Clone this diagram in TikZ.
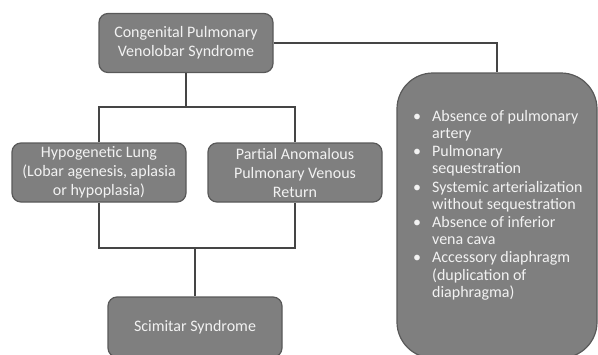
\documentclass[tikz,border=0pt]{standalone}
\usepackage{fontspec}
\setmainfont{Carlito}
\usetikzlibrary{calc,positioning,shapes}

\definecolor{boxgray}{HTML}{7F7F7F}
\definecolor{edgegray}{HTML}{595959}
\definecolor{linegray}{HTML}{454545}
\definecolor{txtwhite}{HTML}{F2F2F2}

\tikzset{
  tbox/.style={draw=edgegray, line width=1.2pt, fill=boxgray, rounded corners=9pt,
    minimum width=174pt, minimum height=59pt, align=center, text=txtwhite,
    font=\fontsize{16}{19}\selectfont, inner sep=2pt},
  conn/.style={draw=linegray, line width=2pt}
}

\begin{document}
\begin{tikzpicture}[x=1pt,y=-1pt]
\useasboundingbox (0,0) rectangle (598,354);

\node[tbox] (cpvs) at (186,43) {Congenital Pulmonary\\Venolobar Syndrome};
\node[tbox] (hypo) at (99,172.5) {Hypogenetic Lung\\(Lobar agenesis, aplasia\\or hypoplasia)};
\node[tbox] (papvr) at (295,172.5) {Partial Anomalous\\Pulmonary Venous\\Return};
\node[tbox, minimum height=60pt] (scim) at (195,327) {Scimitar Syndrome};
\node[tbox, minimum width=200pt, minimum height=285pt, rounded corners=36pt] (list) at (497,215.5) {};

\node[anchor=north west, inner sep=0pt, text=txtwhite, font=\fontsize{16}{17.2}\selectfont] (items) at (413,109) {%
  \begin{tabular}{@{}l@{\hspace{11pt}}l@{}}
  \textbullet & Absence of pulmonary\\
              & artery\\[1pt]
  \textbullet & Pulmonary\\
              & sequestration\\[1pt]
  \textbullet & Systemic arterialization\\
              & without sequestration\\[1pt]
  \textbullet & Absence of inferior\\
              & vena cava\\[1pt]
  \textbullet & Accessory diaphragm\\
              & (duplication of\\
              & diaphragma)
  \end{tabular}};

\coordinate (j1) at (186,107);
\coordinate (j2) at (195,248);

\draw[conn] (cpvs.south) -- (j1);
\draw[conn] (hypo.north) |- (j1) -| (papvr.north);
\draw[conn] (hypo.south) |- (j2) -| (papvr.south);
\draw[conn] (j2) -- (scim.north);
\draw[conn] (cpvs.east) -| (list.north);

\end{tikzpicture}
\end{document}
